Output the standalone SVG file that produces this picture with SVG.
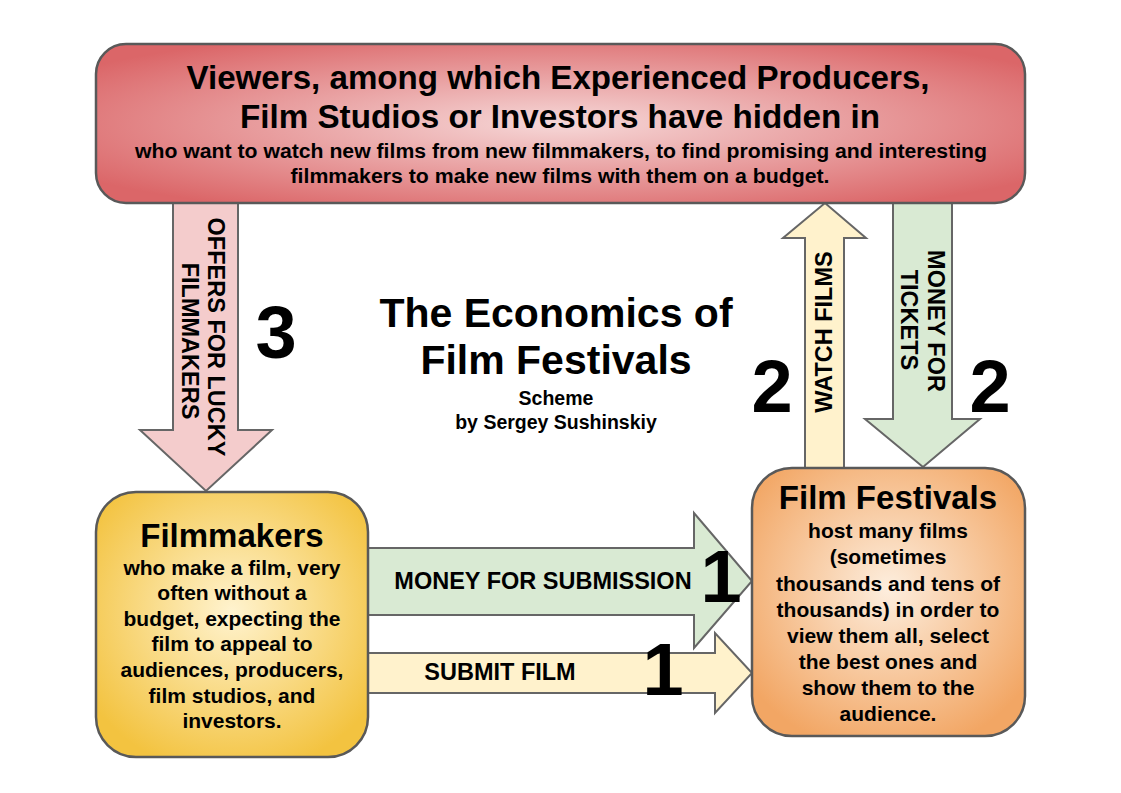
<svg xmlns="http://www.w3.org/2000/svg" width="1121" height="793" viewBox="0 0 1121 793">
<defs>
<radialGradient id="gTop" cx="50%" cy="50%" r="62%">
<stop offset="0" stop-color="#f6d8d8"/>
<stop offset="1" stop-color="#db6668"/>
</radialGradient>
<radialGradient id="gMaker" cx="50%" cy="45%" r="62%">
<stop offset="0" stop-color="#fff3cf"/>
<stop offset="1" stop-color="#f3c340"/>
</radialGradient>
<radialGradient id="gFest" cx="50%" cy="45%" r="62%">
<stop offset="0" stop-color="#fdeede"/>
<stop offset="1" stop-color="#f2a664"/>
</radialGradient>
</defs>
<style>
.box{stroke:#595959;stroke-width:2.5}
.arr{stroke:#666666;stroke-width:2;stroke-linejoin:miter}
.pink{fill:#f4cccc}.yel{fill:#fff2cc}.grn{fill:#d9ead3}
text{font-family:"Liberation Sans",Arial,sans-serif;font-weight:bold;fill:#000;text-anchor:middle}
.lbl{font-size:23.5px}
.num{font-size:74px}
.h{font-size:33px}
.b{font-size:21px}
</style>
<rect width="1121" height="793" fill="#ffffff"/>
<g id="connectors">
<g id="offers">
<path class="arr pink" d="M173,200 H238 V430 H272 L206,491 L140,430 H173 Z"/>
<text class="lbl" transform="translate(208,337) rotate(90)">OFFERS FOR LUCKY</text>
<text class="lbl" transform="translate(182,341) rotate(90)">FILMMAKERS</text>
</g>
<g id="watch">
<path class="arr yel" d="M805,470 V238 H783 L825,203 L866,238 H844 V470 Z"/>
<text class="lbl" transform="translate(832,332) rotate(-90)">WATCH FILMS</text>
</g>
<g id="tickets">
<path class="arr grn" d="M893,200 H952 V419 H980 L923,467 L865,419 H893 Z"/>
<text class="lbl" transform="translate(928,321) rotate(90)">MONEY FOR</text>
<text class="lbl" transform="translate(901,320) rotate(90)">TICKETS</text>
</g>
<g id="submission">
<path class="arr grn" d="M364,548 H694 V513 L752,581 L694,648 V615 H364 Z"/>
<text class="lbl" x="543" y="589">MONEY FOR SUBMISSION</text>
</g>
<g id="submit">
<path class="arr yel" d="M364,653 H715 V633 L752,673 L715,713 V693 H364 Z"/>
<text class="lbl" x="500" y="680">SUBMIT FILM</text>
</g>
</g>
<g id="numbers">
<text class="num" x="276" y="358">3</text>
<text class="num" x="772" y="412">2</text>
<text class="num" x="990" y="412">2</text>
<text class="num" x="721" y="602">1</text>
<text class="num" x="663" y="695">1</text>
</g>
<g id="viewers">
<rect class="box" x="96" y="44" width="929" height="159" rx="30" fill="url(#gTop)"/>
<text x="558" y="89" font-size="33" textLength="743" lengthAdjust="spacingAndGlyphs">Viewers, among which Experienced Producers,</text>
<text x="560" y="128" font-size="33" textLength="640" lengthAdjust="spacingAndGlyphs">Film Studios or Investors have hidden in</text>
<text x="561" y="158" font-size="20" textLength="852" lengthAdjust="spacingAndGlyphs">who want to watch new films from new filmmakers, to find promising and interesting</text>
<text x="560" y="183" font-size="20" textLength="539" lengthAdjust="spacingAndGlyphs">filmmakers to make new films with them on a budget.</text>
</g>
<g id="title">
<text x="556" y="327" font-size="41">The Economics of</text>
<text x="556" y="374" font-size="41">Film Festivals</text>
<text x="556" y="405" font-size="19.5">Scheme</text>
<text x="556" y="429" font-size="19.5">by Sergey Sushinskiy</text>
</g>
<g id="filmmakers">
<rect class="box" x="96" y="492" width="272" height="265" rx="40" fill="url(#gMaker)"/>
<text class="h" x="232" y="547">Filmmakers</text>
<text class="b" x="232" y="575">who make a film, very</text>
<text class="b" x="232" y="600">often without a</text>
<text class="b" x="232" y="626">budget, expecting the</text>
<text class="b" x="232" y="651">film to appeal to</text>
<text class="b" x="232" y="677">audiences, producers,</text>
<text class="b" x="232" y="703">film studios, and</text>
<text class="b" x="232" y="728">investors.</text>
</g>
<g id="festivals">
<rect class="box" x="752" y="468" width="273" height="268" rx="40" fill="url(#gFest)"/>
<text class="h" x="888" y="509">Film Festivals</text>
<text class="b" x="888" y="538">host many films</text>
<text class="b" x="888" y="564">(sometimes</text>
<text class="b" x="888" y="591">thousands and tens of</text>
<text class="b" x="888" y="617">thousands) in order to</text>
<text class="b" x="888" y="643">view them all, select</text>
<text class="b" x="888" y="669">the best ones and</text>
<text class="b" x="888" y="695">show them to the</text>
<text class="b" x="888" y="721">audience.</text>
</g>
</svg>
